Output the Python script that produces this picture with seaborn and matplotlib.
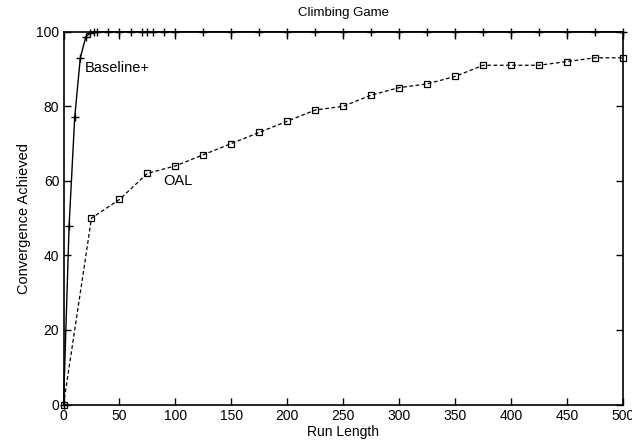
import matplotlib
matplotlib.use("Agg")
import matplotlib.pyplot as plt
import seaborn as sns
import pandas as pd

# Data
base_x = [0, 5, 10, 15, 20, 24, 27, 30, 40, 50, 60, 70, 75, 80, 90, 100,
          125, 150, 175, 200, 225, 250, 275, 300, 325, 350, 375, 400, 425, 450, 475, 500]
base_y = [0, 48, 77, 93, 98.7, 99.6, 100, 100, 100, 100, 100, 100, 100, 100, 100, 100,
          100, 100, 100, 100, 100, 100, 100, 100, 100, 100, 100, 100, 100, 100, 100, 100]
oal_x = [0, 25, 50, 75, 100, 125, 150, 175, 200, 225, 250, 275, 300, 325, 350, 375,
         400, 425, 450, 475, 500]
oal_y = [0, 50, 55, 62, 64, 67, 70, 73, 76, 79, 80, 83, 85, 86, 88, 91,
         91, 91, 92, 93, 93]
x_ticks = [0, 50, 100, 150, 200, 250, 300, 350, 400, 450, 500]
y_ticks = [0, 20, 40, 60, 80, 100]

sns.set_style("ticks")
plt.rcParams['font.family'] = ['Liberation Sans', 'DejaVu Sans']
plt.rcParams['text.color'] = 'black'
plt.rcParams['axes.labelcolor'] = 'black'
plt.rcParams['xtick.color'] = 'black'
plt.rcParams['ytick.color'] = 'black'
plt.rcParams['axes.edgecolor'] = 'black'

df_base = pd.DataFrame({"x": base_x, "y": base_y})
df_oal = pd.DataFrame({"x": oal_x, "y": oal_y})

fig = plt.figure(figsize=(6.32, 4.44), dpi=100)
ax = fig.add_axes([0.1005, 0.0889, 0.8853, 0.8397])

sns.lineplot(data=df_base, x="x", y="y", ax=ax, color="black", linewidth=1.0,
             marker="+", markersize=6, markeredgewidth=1.0,
             markeredgecolor="black", sort=False, clip_on=False, zorder=3)
sns.lineplot(data=df_oal, x="x", y="y", ax=ax, color="black", linewidth=0.9,
             linestyle=(0, (3, 2)), marker="s", markersize=4.2,
             markerfacecolor="none", markeredgecolor="black", markeredgewidth=0.9,
             sort=False, clip_on=False, zorder=3)

ax.set_xlim(0, 500)
ax.set_ylim(0, 100)
ax.set_xticks(x_ticks)
ax.set_yticks(y_ticks)
ax.tick_params(direction="in", length=5, width=1, top=True, right=True,
               labelsize=10, pad=3, colors="black")
for s in ax.spines.values():
    s.set_linewidth(1.2)
    s.set_visible(True)
    s.set_color("black")

ax.set_xlabel("Run Length", fontsize=10, labelpad=2)
ax.set_ylabel("Convergence Achieved", fontsize=10.5, labelpad=4)
ax.set_title("Climbing Game", fontsize=9.5, pad=11)

ax.text(19, 90.3, "Baseline+", fontsize=10.5, ha="left", va="center")
ax.text(89, 60, "OAL", fontsize=10.5, ha="left", va="center")

fig.savefig("out.png", dpi=100)
